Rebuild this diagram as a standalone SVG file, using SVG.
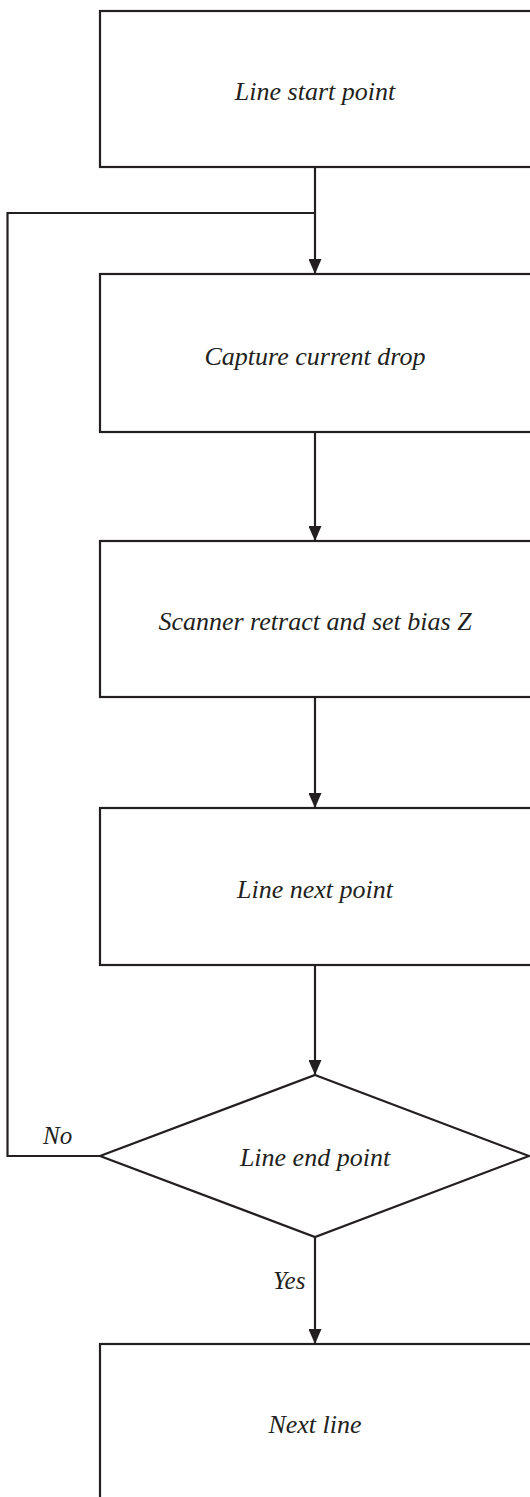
<svg xmlns="http://www.w3.org/2000/svg" width="530" height="1497" viewBox="0 0 530 1497">
  <style>
    .box { fill: #ffffff; stroke: #231f20; stroke-width: 2.2; }
    .wire { fill: none; stroke: #231f20; stroke-width: 2.2; }
    .lbl { font-family: "Liberation Serif", "Times New Roman", serif; font-style: italic; font-size: 26px; fill: #231f20; text-anchor: middle; }
    .edge-lbl { font-family: "Liberation Serif", "Times New Roman", serif; font-style: italic; font-size: 25px; fill: #231f20; }
  </style>
  <defs>
    <marker id="arrow" viewBox="0 0 15 13" refX="15" refY="6.5" markerWidth="15" markerHeight="13" markerUnits="userSpaceOnUse" orient="auto">
      <path d="M0,0 L15,6.5 L0,13 z" fill="#231f20"/>
    </marker>
  </defs>
  <rect width="530" height="1497" fill="#ffffff"/>

  <g id="connectors">
    <line class="wire" x1="315" y1="167" x2="315" y2="274" marker-end="url(#arrow)"/>
    <line class="wire" x1="315" y1="432" x2="315" y2="541" marker-end="url(#arrow)"/>
    <line class="wire" x1="315" y1="697" x2="315" y2="808" marker-end="url(#arrow)"/>
    <line class="wire" x1="315" y1="965" x2="315" y2="1075" marker-end="url(#arrow)"/>
    <line class="wire" x1="315" y1="1237" x2="315" y2="1344" marker-end="url(#arrow)"/>
    <!-- "No" branch loops back above the capture step -->
    <polyline class="wire" points="100,1156 7.5,1156 7.5,213 315,213"/>
    <text class="edge-lbl" x="43" y="1144">No</text>
    <text class="edge-lbl" x="273" y="1289">Yes</text>
  </g>

  <g id="start">
    <rect class="box" x="100" y="11" width="432" height="156"/>
    <text class="lbl" x="315" y="100">Line start point</text>
  </g>
  <g id="capture">
    <rect class="box" x="100" y="274" width="432" height="158"/>
    <text class="lbl" x="315" y="365">Capture current drop</text>
  </g>
  <g id="retract">
    <rect class="box" x="100" y="541" width="432" height="156"/>
    <text class="lbl" x="315" y="630">Scanner retract and set bias Z</text>
  </g>
  <g id="next-point">
    <rect class="box" x="100" y="808" width="432" height="157"/>
    <text class="lbl" x="315" y="898">Line next point</text>
  </g>
  <g id="end-check">
    <polygon class="box" points="315,1075 529,1156 315,1237 100,1156"/>
    <text class="lbl" x="315" y="1166">Line end point</text>
  </g>
  <g id="next-line">
    <rect class="box" x="100" y="1344" width="432" height="170"/>
    <text class="lbl" x="315" y="1433">Next line</text>
  </g>
</svg>
